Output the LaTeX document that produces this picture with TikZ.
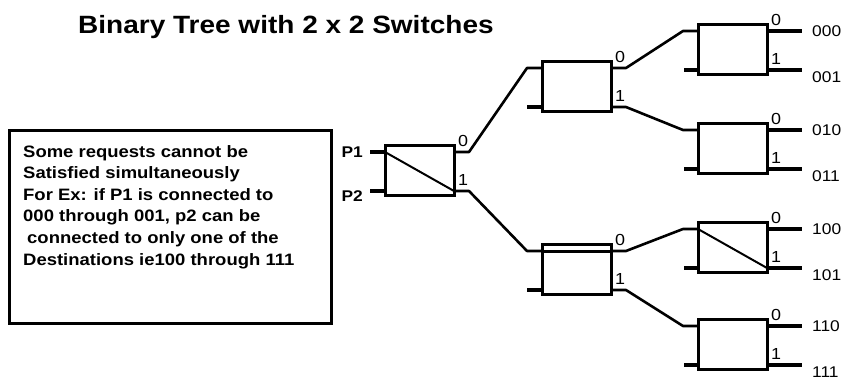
\documentclass[tikz,border=0pt]{standalone}
\usepackage{fontspec}
\setmainfont[FakeStretch=1.12]{Liberation Sans}
\tikzset{
  swbox/.style={draw, line width=3pt, minimum width=69pt, minimum height=50pt,
    inner sep=0pt, outer sep=0pt, anchor=north west},
  wire/.style={line width=2.6pt, line join=round},
  stub/.style={line width=3.2pt},
  portlbl/.style={inner sep=0pt, anchor=south west, font=\fontsize{16}{18}\selectfont},
  outlbl/.style={inner sep=0pt, anchor=west, font=\fontsize{15.5}{18}\selectfont},
  inlbl/.style={inner sep=0pt, anchor=east, font=\bfseries\fontsize{15.5}{18}\selectfont},
}
\newcommand\mkswitch[3]{%
  \node[swbox] (#1) at (#2,#3) {};
  \coordinate (#1i0) at ([yshift=-7pt]#1.north west);
  \coordinate (#1i1) at ([yshift=-46pt]#1.north west);
  \coordinate (#1o0) at ([yshift=-7pt]#1.north east);
  \coordinate (#1o1) at ([yshift=-46pt]#1.north east);
  \node[portlbl] (#1l0) at ([xshift=4pt,yshift=5pt]#1o0) {0};
  \node[portlbl] (#1l1) at ([xshift=4pt,yshift=5pt]#1o1) {1};
}
\newcommand\mkleaf[4]{% name, top y, label0, label1
  \mkswitch{#1}{698}{#2}
  \draw[stub] (#1i1) -- ++(-14,0);
  \coordinate (#1e0) at ([xshift=35pt]#1o0);
  \coordinate (#1e1) at ([xshift=35pt]#1o1);
  \draw[stub] (#1o0) -- (#1e0);
  \draw[stub] (#1o1) -- (#1e1);
  \node[outlbl] (#1t0) at ([xshift=10pt]#1e0) {#3};
  \node[outlbl] (#1t1) at ([xshift=10pt,yshift=-7pt]#1e1) {#4};
}
\newcommand\link[3]{% from port, to switch input
  \draw[wire] (#1) -- ++(15,0) -- ([xshift=-15pt]#2) -- (#2);
}
\begin{document}
\begin{tikzpicture}[x=1pt,y=-1pt]
\useasboundingbox (0,0) rectangle (843,381);
\fill[white] (0,0) rectangle (843,381);

\node[anchor=base west, inner sep=0pt, font=\bfseries\fontsize{25}{30}\selectfont] (title) at (78,33) {Binary Tree with 2 x 2 Switches};

% note box
\node[draw, line width=3pt, minimum width=322pt, minimum height=193pt, anchor=north west, inner sep=0pt] (note) at (8,129) {};
\node[anchor=north west, inner sep=0pt, align=left, font=\bfseries\fontsize{16.5}{21.6}\selectfont] (notetext) at (23,145)
 {Some requests cannot be\\Satisfied simultaneously\\For Ex: if P1 is connected to\\000 through 001, p2 can be\\\hspace{4pt}connected to only one of the\\Destinations ie100 through 111};

% switches
\mkswitch{s1}{385}{145}
\mkswitch{s2}{542}{61}
\mkswitch{s3}{542}{244}
\mkleaf{s4}{24}{000}{001}
\mkleaf{s5}{123}{010}{011}
\mkleaf{s6}{222}{100}{101}
\mkleaf{s7}{319}{110}{111}

% first switch inputs
\coordinate (p1e) at ([xshift=-15pt]s1i0);
\coordinate (p2e) at ([xshift=-15pt]s1i1);
\draw[stub] (s1i0) -- (p1e);
\draw[stub] (s1i1) -- (p2e);
\node[inlbl] (p1) at ([xshift=-7pt]p1e) {P1};
\node[inlbl] (p2) at ([xshift=-7pt,yshift=-5pt]p2e) {P2};
\draw[line width=2pt] (s1i0) -- (s1o1);

% mid switch unused inputs
\draw[stub] (s2i1) -- ++(-15,0);
\draw[stub] (s3i1) -- ++(-15,0);
\draw[line width=3pt] (s3i0) -- (s3o0);

% leaf crossing
\draw[line width=2pt] (s6i0) -- (s6o1);

% connections
\link{s1o0}{s2i0}{}
\link{s1o1}{s3i0}{}
\link{s2o0}{s4i0}{}
\link{s2o1}{s5i0}{}
\link{s3o0}{s6i0}{}
\link{s3o1}{s7i0}{}
\end{tikzpicture}
\end{document}
